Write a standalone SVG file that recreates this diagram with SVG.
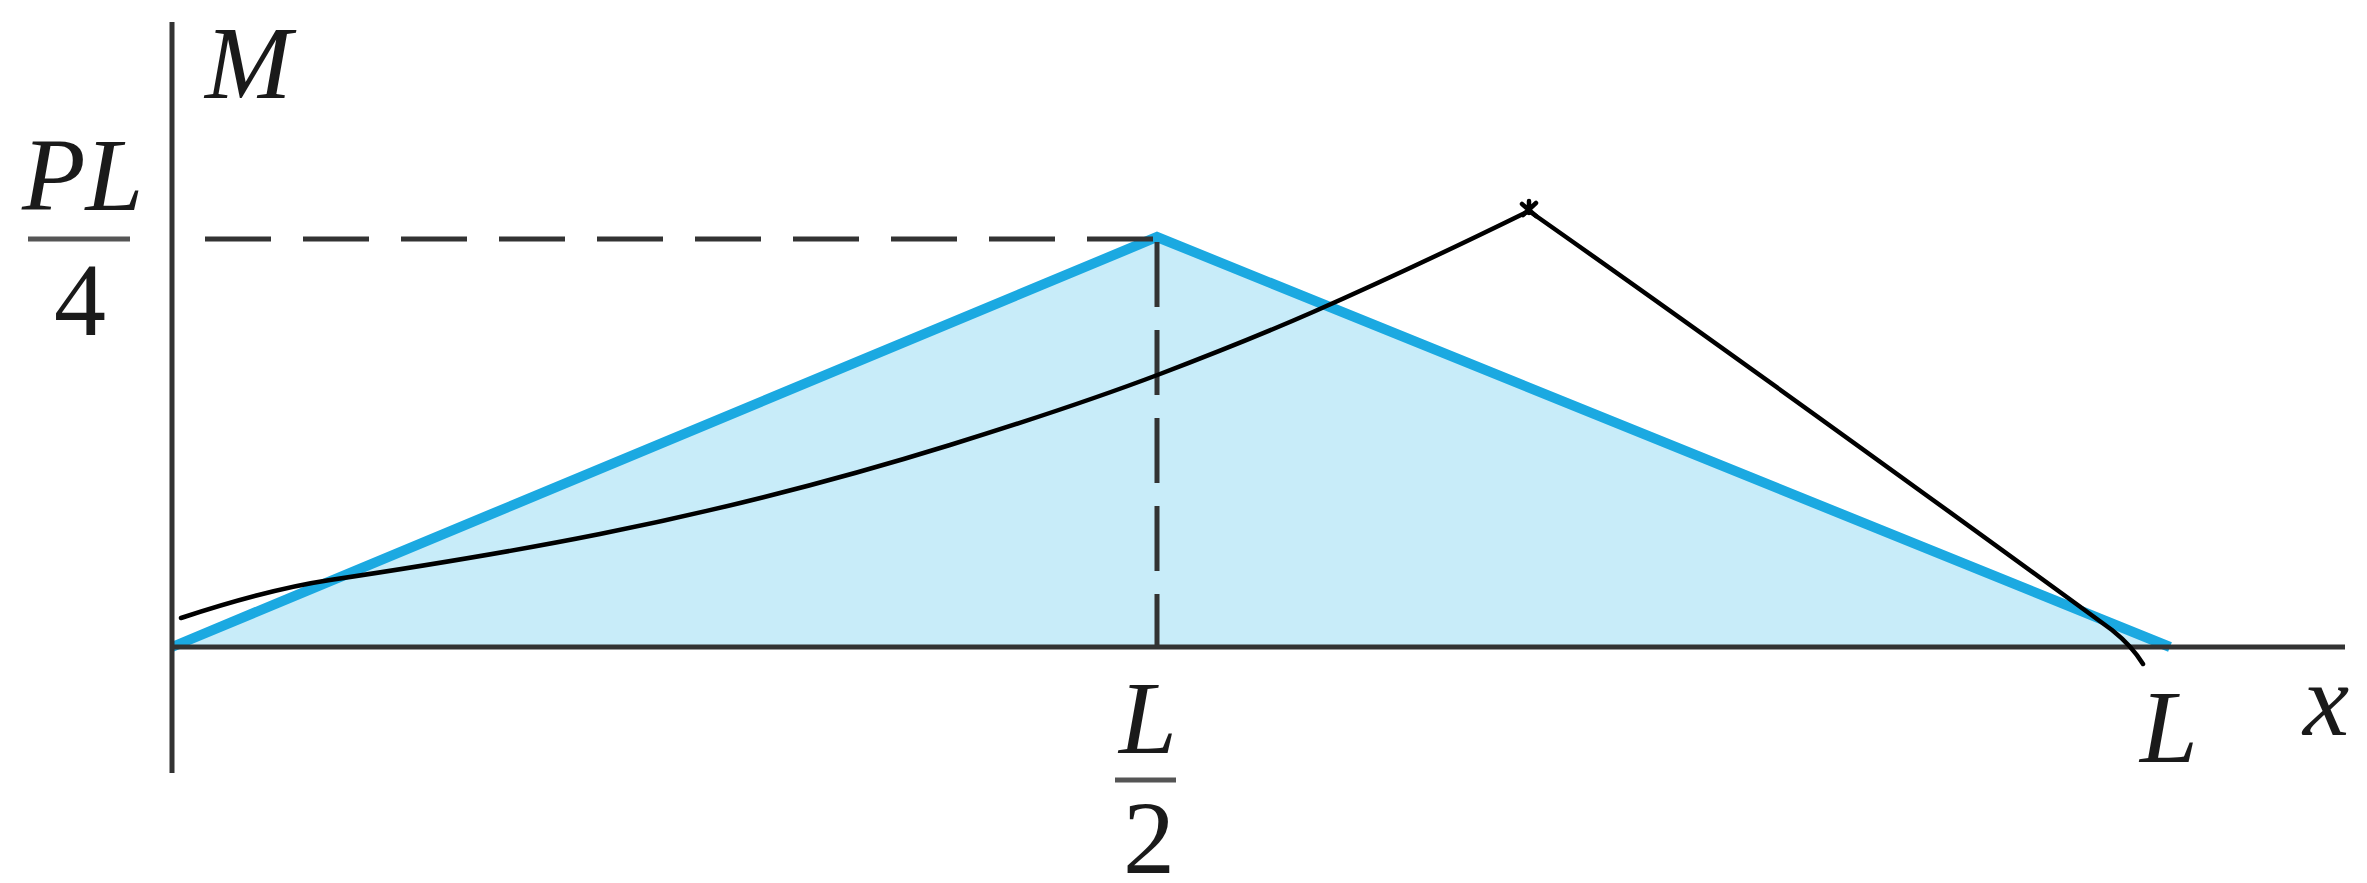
<svg xmlns="http://www.w3.org/2000/svg" width="2367" height="883" viewBox="0 0 2367 883">
<style>
.axis{stroke:#333;stroke-width:5;fill:none}
.dash{stroke:#333;stroke-width:5;fill:none}
.blue{stroke:#1ba9e1;stroke-width:10;fill:none;stroke-linejoin:miter}
.curve{stroke:#000;stroke-width:4.5;fill:none;stroke-linecap:round;stroke-linejoin:round}
.lbl{font-size:104px;fill:#1a1a1a}
.it{font-style:italic}
.bar{stroke:#555;stroke-width:5}
</style>
<rect width="2367" height="883" fill="#fff"/>
<g id="moment-area">
<polygon points="172,647 1157,237 2170,647" fill="#c8ecf9"/>
<polyline class="blue" points="172,647 1157,237 2170,647"/>
</g>
<g id="guides">
<line class="dash" x1="205" y1="239" x2="1157" y2="239" stroke-dasharray="66 32"/>
<line class="dash" x1="1157" y1="242" x2="1157" y2="647" stroke-dasharray="65 23"/>
</g>
<g id="axes">
<line class="axis" x1="172" y1="22" x2="172" y2="773"/>
<line class="axis" x1="172" y1="647" x2="2345" y2="647"/>
</g>
<g id="connectors">
<path class="curve" d="M181,618 C230.7,601.6 280.3,587.5 330,580 C420,566.5 510,552 600,534 C716.7,510.7 833.3,481.2 950,445 C1020,423.3 1090,400.6 1160,374 C1211,354.6 1262,334.4 1313,312 C1385,280.3 1457,246.3 1529,211"/>
<path class="curve" d="M1529,211 C1720,345 1950,512 2112,630 Q2132,646 2143,664"/>
<path class="curve" d="M1522,204 L1536,216 M1536,203 L1523,215 M1529,201 L1529,213"/>
</g>
<g id="label-M"><text class="lbl it" font-family="'Liberation Serif','Times New Roman',Tinos,'Nimbus Roman',FreeSerif,serif" x="205" y="98">M</text></g>
<g id="label-PL4">
<text class="lbl it" font-family="'Liberation Serif','Times New Roman',Tinos,'Nimbus Roman',FreeSerif,serif" x="22" y="210">PL</text>
<line class="bar" x1="28" y1="239" x2="130" y2="239"/>
<text class="lbl" font-family="'Liberation Serif','Times New Roman',Tinos,'Nimbus Roman',FreeSerif,serif" x="80" y="335" text-anchor="middle">4</text>
</g>
<g id="label-L2">
<text class="lbl it" font-family="'Liberation Serif','Times New Roman',Tinos,'Nimbus Roman',FreeSerif,serif" x="1148" y="753" text-anchor="middle">L</text>
<line class="bar" x1="1115" y1="780" x2="1176" y2="780"/>
<text class="lbl" font-family="'Liberation Serif','Times New Roman',Tinos,'Nimbus Roman',FreeSerif,serif" x="1149" y="873" text-anchor="middle">2</text>
</g>
<g id="label-L"><text class="lbl it" font-family="'Liberation Serif','Times New Roman',Tinos,'Nimbus Roman',FreeSerif,serif" x="2140" y="762">L</text></g>
<g id="label-x"><text class="lbl it" font-family="'Liberation Serif','Times New Roman',Tinos,'Nimbus Roman',FreeSerif,serif" x="2303" y="735">x</text></g>
</svg>
